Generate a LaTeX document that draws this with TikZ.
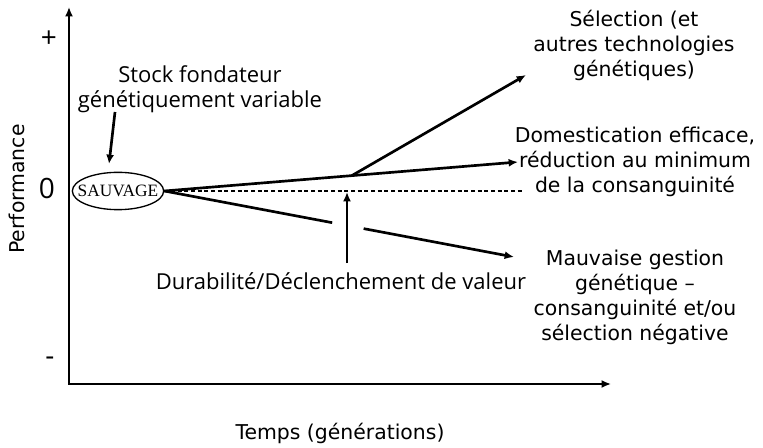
\documentclass[tikz,border=0pt]{standalone}
\usepackage{fontspec}
\setmainfont{Open Sans}
\newfontfamily\comicfont{DejaVu Sans}
\newfontfamily\sauvfont{Liberation Serif}
\usetikzlibrary{arrows.meta, positioning, shapes.geometric, calc}

\begin{document}
\begin{tikzpicture}[x=0.75pt, y=-0.75pt, line width=2pt,
            >={Latex[length=7pt,width=6pt]},
            note/.style={font=\comicfont\fontsize{15.3}{18.75}\selectfont,
                         align=center, inner sep=0pt},
            plain/.style={font=\fontsize{16.5}{18.75}\selectfont,
                          align=center, inner sep=0pt},
            tick/.style={font=\fontsize{21}{21}\selectfont, inner sep=0pt}]
            \useasboundingbox (0,0) rectangle (763,448);
            % axes
            \coordinate (origin) at (69,384);
            \coordinate (ytop) at (69,7);
            \coordinate (xend) at (611,384);
            \draw[<->] (ytop) -- (origin) -- (xend);
            \node[tick] (plus) at (49,39) {+};
            \node[tick] (zero) at (47,188) {0};
            \node[tick] (minus) at (50,361) {-};
            \node[note, rotate=90] (perf) at (17,189) {Performance};
            \node[note] (temps) at (340,433) {Temps (g\'en\'erations)};
            % start point
            \node[draw, ellipse, line width=1pt, minimum width=68pt,
              minimum height=28pt, inner sep=-6pt,
              font=\sauvfont\fontsize{13}{13}\selectfont] (sauvage)
              at (118,191) {SAUVAGE};
            \node[plain] (stock) at (200,89)
              {Stock fondateur\\g\'en\'etiquement variable};
            \coordinate (stocktail) at (115,112);
            \coordinate (stocktip) at (109,164);
            \draw[->] (stocktail) -- (stocktip);
            % outcomes
            \node[note] (select) at (634,45)
              {S\'election (et\\autres technologies\\g\'en\'etiques)};
            \node[note] (domest) at (635,162)
              {Domestication efficace,\\r\'eduction au minimum\\de la consanguinit\'e};
            \node[note] (bad) at (635,297)
              {Mauvaise gestion\\g\'en\'etique –\\consanguinit\'e et/ou\\s\'election n\'egative};
            \coordinate (seltip) at (526,75);
            \coordinate (domtip) at (518,162);
            \coordinate (dotend) at (522,191);
            \coordinate (badtip) at (514,257);
            \draw[->] (sauvage.east) -- (domtip) coordinate[pos=0.53] (branch);
            \draw[->] (branch) -- (seltip);
            \draw[line width=1pt, dash pattern=on 3pt off 2pt]
              (sauvage.east) -- (dotend);
            \draw (sauvage.east) -- ($(sauvage.east)!0.48!(badtip)$);
            \draw[->] ($(sauvage.east)!0.57!(badtip)$) -- (badtip);
            % sustainability
            \node[plain] (dur) at (341,281) {Durabilit\'e/D\'eclenchement de valeur};
            \coordinate (durtip) at (347,192);
            \draw[->] ([yshift=6pt]durtip |- dur.north) -- (durtip);
          \end{tikzpicture}
\end{document}
